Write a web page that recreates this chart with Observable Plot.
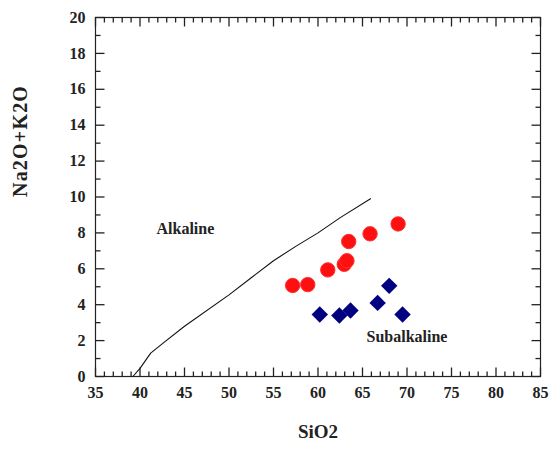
<!DOCTYPE html>
<html>
<head>
<meta charset="utf-8">
<script src="https://cdn.jsdelivr.net/npm/d3@7"></script>
<script src="https://cdn.jsdelivr.net/npm/@observablehq/plot@0.6"></script>
<style>
  html, body { margin: 0; padding: 0; background: #fff; }
  svg { display: block; }
  svg, svg text { font-family: "Liberation Serif", "Times New Roman", serif !important; font-weight: bold; }
</style>
</head>
<body>
<div id="chart"></div>
<script>
// Alkaline / subalkaline dividing line (Irvine & Baragar)
const divideSiO2 = [39.2, 40.0, 41.2, 42.7, 45.0, 50.0, 52.5, 55.0, 57.5, 60.0, 62.5, 65.9];
const divideAlk  = [0.0, 0.45, 1.3, 1.9, 2.8, 4.55, 5.5, 6.45, 7.25, 8.0, 8.85, 9.9];

// Red circles
const redSiO2 = [57.15, 58.85, 61.1, 62.95, 63.25, 63.45, 65.85, 69.0];
const redAlk  = [5.07, 5.12, 5.94, 6.25, 6.45, 7.52, 7.95, 8.5];

// Blue diamonds
const blueSiO2 = [60.2, 62.4, 63.65, 66.7, 68.0, 69.5];
const blueAlk  = [3.45, 3.4, 3.68, 4.1, 5.05, 3.45];

// Field labels
const fieldNames = ["Alkaline", "Subalkaline"];
const fieldSiO2 = [45.1, 70.0];
const fieldAlk  = [8.2, 2.2];

// Axis ticks
const xTicks = [35, 40, 45, 50, 55, 60, 65, 70, 75, 80, 85];
const yTicks = [0, 2, 4, 6, 8, 10, 12, 14, 16, 18, 20];
const xMinorTicks = [36, 37, 38, 39, 41, 42, 43, 44, 46, 47, 48, 49, 51, 52, 53, 54, 56, 57, 58, 59,
                     61, 62, 63, 64, 66, 67, 68, 69, 71, 72, 73, 74, 76, 77, 78, 79, 81, 82, 83, 84];
const yMinorTicks = [1, 3, 5, 7, 9, 11, 13, 15, 17, 19];

const xTitle = "SiO2";
const yTitle = "Na2O+K2O";

const divide = divideSiO2.map((x, i) => ({x, y: divideAlk[i]}));
const red = redSiO2.map((x, i) => ({x, y: redAlk[i]}));
const blue = blueSiO2.map((x, i) => ({x, y: blueAlk[i]}));
const fields = fieldNames.map((t, i) => ({t, x: fieldSiO2[i], y: fieldAlk[i]}));

const serif = "Liberation Serif";
const W = 549, H = 450;
const M = {left: 95, right: 9, top: 17, bottom: 74};
const frameW = W - M.left - M.right;
const frameH = H - M.top - M.bottom;
const xDomain = [35, 85], yDomain = [0, 20];
const pxX = (xDomain[1] - xDomain[0]) / frameW; // data units per pixel
const pxY = (yDomain[1] - yDomain[0]) / frameH;

// tick segments as plain objects (inward, on all four sides)
const tickSegs = [];
for (const [ticks, size] of [[xMinorTicks, 5], [xTicks, 9]]) {
  for (const v of ticks) {
    tickSegs.push({x1: v, x2: v, y1: yDomain[0], y2: yDomain[0] + size * pxY});
    tickSegs.push({x1: v, x2: v, y1: yDomain[1], y2: yDomain[1] - size * pxY});
  }
}
for (const [ticks, size] of [[yMinorTicks, 5], [yTicks, 9]]) {
  for (const v of ticks) {
    tickSegs.push({y1: v, y2: v, x1: xDomain[0], x2: xDomain[0] + size * pxX});
    tickSegs.push({y1: v, y2: v, x1: xDomain[1], x2: xDomain[1] - size * pxX});
  }
}

const chart = Plot.plot({
  width: W,
  height: H,
  marginLeft: M.left,
  marginRight: M.right,
  marginTop: M.top,
  marginBottom: M.bottom,
  style: {fontFamily: serif, fontWeight: "bold", background: "#fff", color: "#222"},
  x: {domain: xDomain},
  y: {domain: yDomain},
  marks: [
    Plot.frame({stroke: "#222", strokeWidth: 1.2, fill: "none"}),
    Plot.axisX({anchor: "bottom", ticks: xTicks, tickSize: 0, tickPadding: 10, fontSize: 16, fontFamily: serif, fontWeight: "bold", label: null}),
    Plot.axisY({anchor: "left", ticks: yTicks, tickSize: 0, tickPadding: 10, fontSize: 16, fontFamily: serif, fontWeight: "bold", label: null}),
    Plot.text([xTitle], {frameAnchor: "bottom", dy: 61, fontSize: 19, fill: "#222", fontFamily: serif, fontWeight: "bold"}),
    Plot.text([yTitle], {frameAnchor: "left", dx: -75, rotate: -90, fontSize: 20, fill: "#222", fontFamily: serif, fontWeight: "bold"}),
    Plot.line(divide, {x: "x", y: "y", stroke: "#111", strokeWidth: 1.1}),
    Plot.text(fields, {x: "x", y: "y", text: "t", fontSize: 16, fill: "#222", fontFamily: serif, fontWeight: "bold"}),
    Plot.dot(red, {x: "x", y: "y", r: 7.2, fill: "#ff1010", stroke: "#ff3030", strokeWidth: 1}),
    Plot.dot(blue, {x: "x", y: "y", symbol: "diamond2", r: 7.4, fill: "#000080"}),
    Plot.link(tickSegs, {x1: "x1", y1: "y1", x2: "x2", y2: "y2", stroke: "#222", strokeWidth: 1.3})
  ]
});

d3.select(chart).selectAll("text").filter(function() { return this.textContent === yTitle; })
  .style("letter-spacing", "1.2px");

document.getElementById("chart").append(chart);
</script>
</body>
</html>
